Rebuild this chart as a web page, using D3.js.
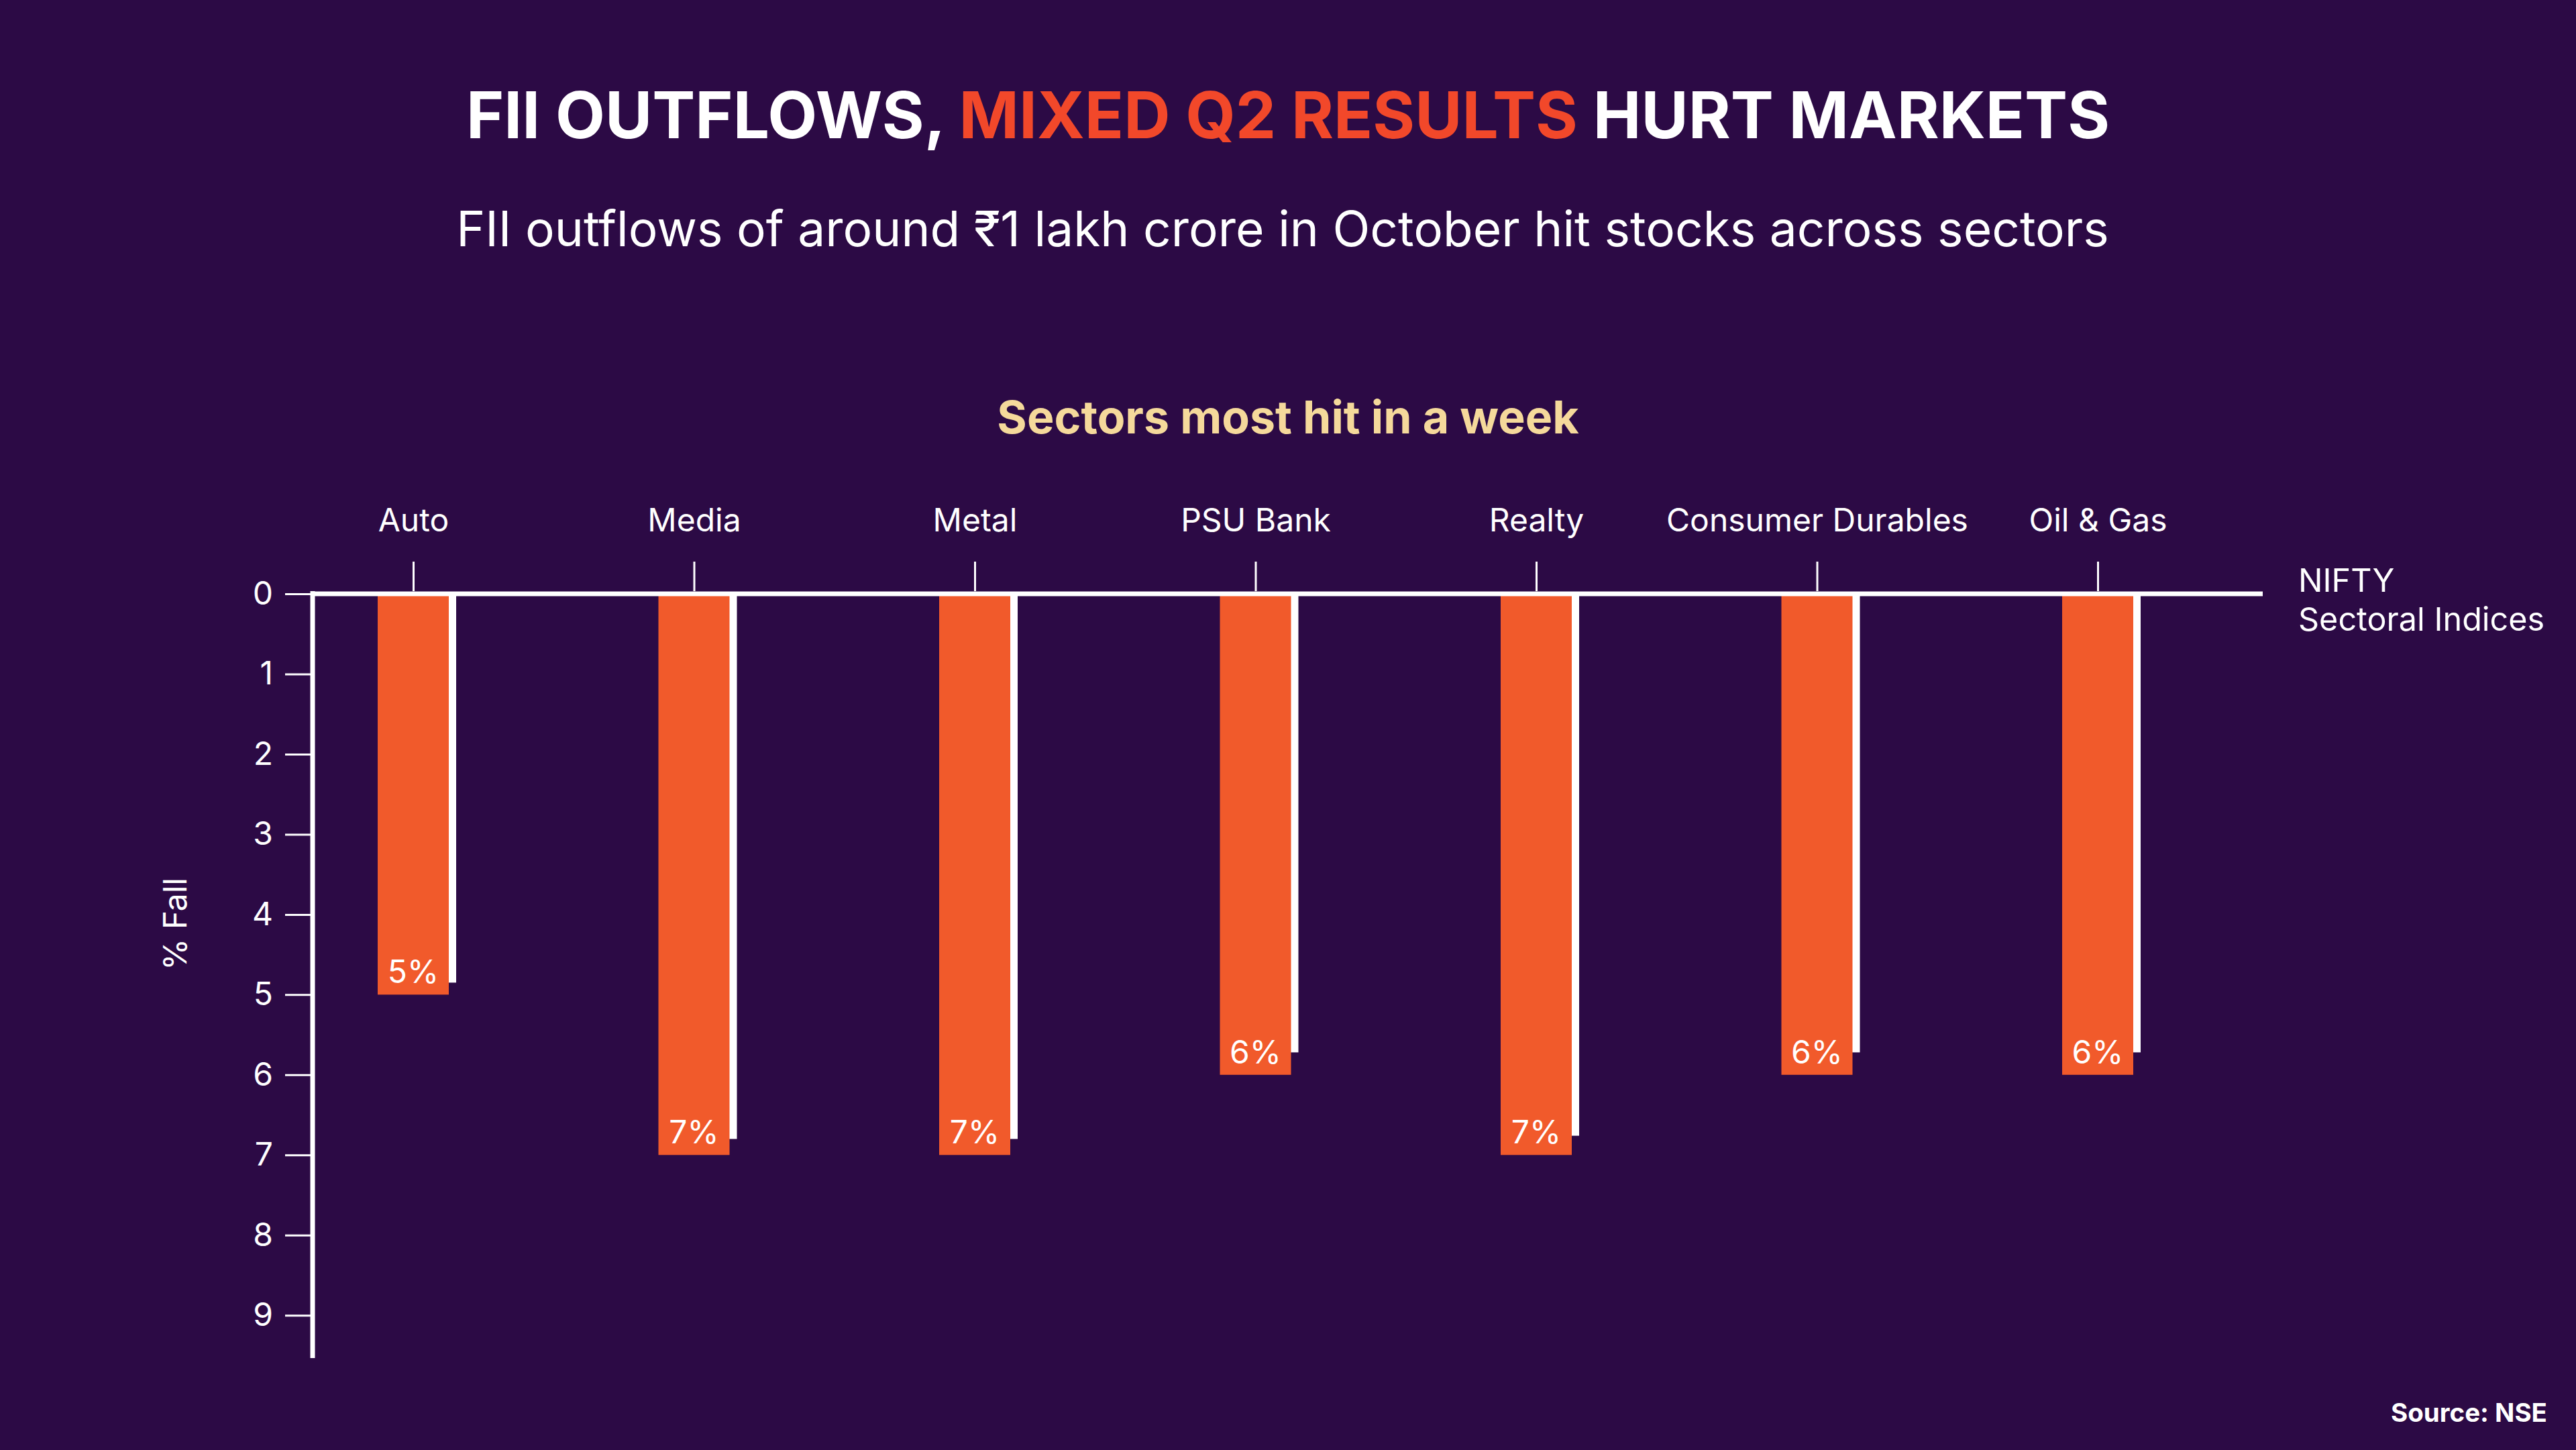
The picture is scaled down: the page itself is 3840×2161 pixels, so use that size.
<!DOCTYPE html>
<html>
<head>
<meta charset="utf-8">
<script src="https://cdn.jsdelivr.net/npm/d3@7"></script>
<style>
  html, body { margin: 0; padding: 0; background: #2c0a45; }
  svg { display: block; }
  text { font-family: Inter, "Noto Sans", sans-serif; }
</style>
</head>
<body>
<svg id="chart" width="3840" height="2161"></svg>
<script>
// ---- data ----
const categories = ["Auto", "Media", "Metal", "PSU Bank", "Realty", "Consumer Durables", "Oil & Gas"];
const fallRounded = [5, 7, 7, 6, 7, 6, 6];           // orange bars (% fall, labelled)
const fallActual  = [4.85, 6.8, 6.8, 5.72, 6.76, 5.72, 5.72]; // white backing bars
const labels = ["5%", "7%", "7%", "6%", "7%", "6%", "6%"];
const yTicks = [0, 1, 2, 3, 4, 5, 6, 7, 8, 9];

const W = 3840, H = 2161;
const BG = "#2c0a45", ORANGE = "#f15a2b", TITLE_ORANGE = "#f2482a", GOLD = "#f5d99b";

const svg = d3.select("#chart");
svg.append("rect").attr("width", W).attr("height", H).attr("fill", BG);

// titles
const title = svg.append("text")
  .attr("x", W / 2).attr("y", 206)
  .attr("text-anchor", "middle")
  .attr("font-size", 96).attr("font-weight", 700).attr("fill", "#fff");
title.append("tspan").text("FII OUTFLOWS, ");
title.append("tspan").attr("fill", TITLE_ORANGE).text("MIXED Q2 RESULTS");
title.append("tspan").text(" HURT MARKETS");

svg.append("text")
  .attr("x", W / 2 - 8).attr("y", 367)
  .attr("text-anchor", "middle")
  .attr("font-size", 73).attr("font-weight", 400).attr("fill", "#fff")
  .text("FII outflows of around ₹1 lakh crore in October hit stocks across sectors");

svg.append("text")
  .attr("x", W / 2).attr("y", 646)
  .attr("text-anchor", "middle")
  .attr("font-size", 68).attr("font-weight", 700).attr("fill", GOLD)
  .text("Sectors most hit in a week");

// scales
const x = d3.scalePoint().domain(categories).range([616, 3127]);
const y = d3.scaleLinear().domain([0, 9.5]).range([885, 2020]);
const barW = 106, shift = 11;
const xLeft = 466, xRight = 3373;

// white backing bars
svg.append("g").selectAll("rect")
  .data(categories)
  .join("rect")
  .attr("x", d => x(d) - barW / 2 + shift)
  .attr("y", y(0))
  .attr("width", barW)
  .attr("height", (d, i) => y(fallActual[i]) - y(0))
  .attr("fill", "#fff");

// orange bars
svg.append("g").selectAll("rect")
  .data(categories)
  .join("rect")
  .attr("x", d => x(d) - barW / 2)
  .attr("y", y(0))
  .attr("width", barW)
  .attr("height", (d, i) => y(fallRounded[i]) - y(0))
  .attr("fill", ORANGE);

// value labels
svg.append("g").selectAll("text")
  .data(categories)
  .join("text")
  .attr("x", d => x(d))
  .attr("y", (d, i) => y(fallRounded[i]) - 17)
  .attr("text-anchor", "middle")
  .attr("font-size", 48).attr("fill", "#fff")
  .text((d, i) => labels[i]);

// left axis
const yAxis = d3.axisLeft(y).tickValues(yTicks).tickFormat(d3.format("d"))
  .tickSize(38).tickPadding(18);
const gy = svg.append("g").attr("transform", `translate(${xLeft - 3},0)`).call(yAxis);
gy.select(".domain").remove();
gy.selectAll(".tick line").attr("stroke", "#fff").attr("stroke-width", 3);
gy.selectAll(".tick text").attr("fill", "#fff").attr("font-size", 48)
  .attr("font-family", "Inter, sans-serif");
svg.append("line")
  .attr("x1", xLeft).attr("x2", xLeft)
  .attr("y1", y(0) - 4).attr("y2", 2024)
  .attr("stroke", "#fff").attr("stroke-width", 7);

// top category axis
const xAxis = d3.axisTop(x).tickSize(44).tickPadding(45);
const gx = svg.append("g").attr("transform", `translate(0,${y(0) - 4})`).call(xAxis);
gx.select(".domain").remove();
gx.selectAll(".tick line").attr("stroke", "#fff").attr("stroke-width", 3);
gx.selectAll(".tick text").attr("fill", "#fff").attr("font-size", 48)
  .attr("font-family", "Inter, sans-serif");

// zero baseline
svg.append("line")
  .attr("x1", xLeft - 3).attr("x2", xRight)
  .attr("y1", y(0)).attr("y2", y(0))
  .attr("stroke", "#fff").attr("stroke-width", 7);

// baseline label
const nl = svg.append("text").attr("x", 3426).attr("y", 882)
  .attr("font-size", 48.5).attr("fill", "#fff");
nl.append("tspan").attr("x", 3426).text("NIFTY");
nl.append("tspan").attr("x", 3426).attr("dy", 58).text("Sectoral Indices");

// y-axis title
svg.append("text")
  .attr("transform", "translate(278,1377) rotate(-90)")
  .attr("text-anchor", "middle")
  .attr("font-size", 48).attr("fill", "#fff")
  .text("% Fall");

// source
svg.append("text")
  .attr("x", 3797).attr("y", 2119)
  .attr("text-anchor", "end")
  .attr("font-size", 38.5).attr("font-weight", 700).attr("fill", "#fff")
  .text("Source: NSE");
</script>
</body>
</html>
